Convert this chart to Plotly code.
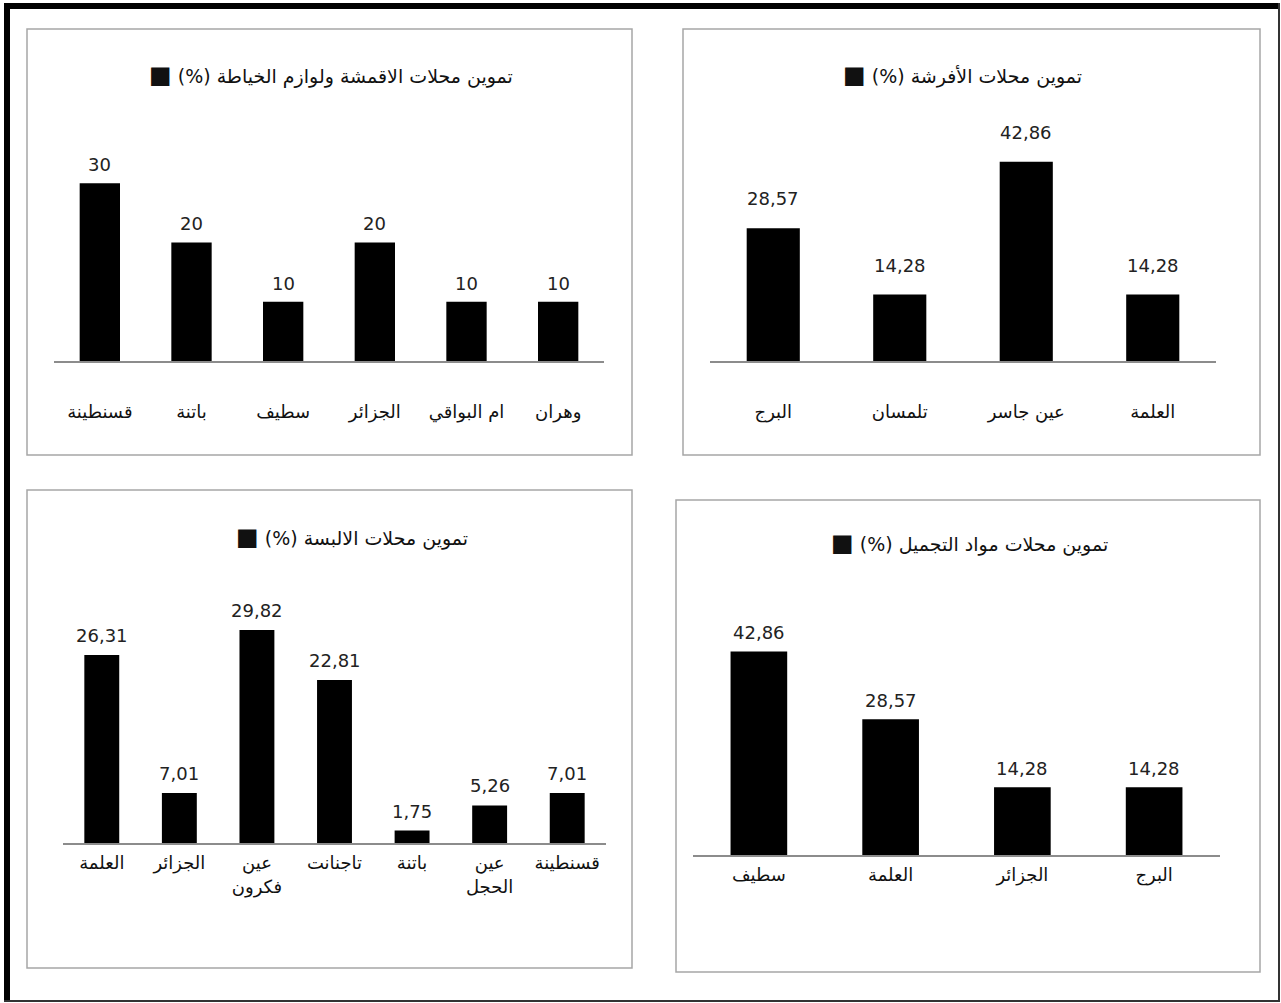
import plotly.graph_objects as go

W, H = 1281, 1003

# ---------------- data ----------------
tl_title = "تموين محلات الاقمشة ولوازم الخياطة"
tl_cats = ["قسنطينة", "باتنة", "سطيف", "الجزائر", "ام البواقي", "وهران"]
tl_vals = [30, 20, 10, 20, 10, 10]

tr_title = "تموين محلات الأفرشة"
tr_cats = ["البرج", "تلمسان", "عين جاسر", "العلمة"]
tr_vals = [28.57, 14.28, 42.86, 14.28]

bl_title = "تموين محلات الالبسة "
bl_cats = ["العلمة", "الجزائر", "عين<br>فكرون", "تاجنانت", "باتنة", "عين<br>الحجل", "قسنطينة"]
bl_vals = [26.31, 7.01, 29.82, 22.81, 1.75, 5.26, 7.01]

br_title = "تموين محلات مواد التجميل "
br_cats = ["سطيف", "العلمة", "الجزائر", "البرج"]
br_vals = [42.86, 28.57, 14.28, 14.28]

FONT = "DejaVu Sans"


def fx(p):
    return p / W


def fy(p):
    return 1 - p / H


def fmt(v):
    if float(v).is_integer():
        return str(int(v))
    return f"{v:.2f}".replace(".", ",")


# layout settings per panel (pixel geometry)
panels = [
    dict(cats=tl_cats, vals=tl_vals, title=tl_title, x0=54, x1=604, base=361, ymax=40, top=124,
         bw=0.44, shift=6, standoff=34, box=(27, 29, 632, 455), tx=331, ty=75),
    dict(cats=tr_cats, vals=tr_vals, title=tr_title, x0=710, x1=1216, base=361, ymax=50, top=128.5,
         bw=0.42, shift=17, standoff=34, box=(683, 29, 1260, 455), tx=963, ty=75),
    dict(cats=bl_cats, vals=bl_vals, title=bl_title, x0=63, x1=606, base=843, ymax=35, top=593,
         bw=0.45, shift=7, standoff=3, box=(27, 490, 632, 968), tx=355, ty=537),
    dict(cats=br_cats, vals=br_vals, title=br_title, x0=693, x1=1220, base=855, ymax=50, top=617.5,
         bw=0.43, shift=6, standoff=3, box=(676, 500, 1260, 972), tx=973, ty=543),
]

fig = go.Figure()
annotations = []
shapes = []
layout_axes = {}

for i, p in enumerate(panels, start=1):
    xa = "x" if i == 1 else f"x{i}"
    ya = "y" if i == 1 else f"y{i}"
    xkey = "xaxis" if i == 1 else f"xaxis{i}"
    ykey = "yaxis" if i == 1 else f"yaxis{i}"
    fig.add_trace(go.Bar(
        x=p["cats"], y=p["vals"], xaxis=xa, yaxis=ya,
        marker=dict(color="black", line=dict(width=0)),
        width=p["bw"], showlegend=False, hoverinfo="x+y",
    ))
    layout_axes[xkey] = dict(
        domain=[fx(p["x0"]), fx(p["x1"])], anchor=ya, type="category",
        showline=True, linecolor="#8c8c8c", linewidth=1.5, ticks="",
        showgrid=False, zeroline=False, ticklabelstandoff=p["standoff"],
        tickfont=dict(family=FONT, size=18, color="#111"), fixedrange=True,
    )
    layout_axes[ykey] = dict(
        domain=[fy(p["base"]), fy(p["top"])], anchor=xa, range=[0, p["ymax"]],
        visible=False, fixedrange=True,
    )
    for c, v in zip(p["cats"], p["vals"]):
        annotations.append(dict(
            x=c, y=v, xref=xa, yref=ya, text=fmt(v), showarrow=False,
            yanchor="bottom", yshift=p["shift"],
            font=dict(family=FONT, size=18, color="#222"),
        ))
    # title with legend square
    annotations.append(dict(
        x=fx(p["tx"]), y=fy(p["ty"]), xref="paper", yref="paper",
        xanchor="center", yanchor="middle", showarrow=False,
        text="<span style='font-size:24px'>■</span> (%) " + p["title"],
        font=dict(family=FONT, size=19, color="#111"),
    ))
    bx0, by0, bx1, by1 = p["box"]
    shapes.append(dict(type="rect", xref="paper", yref="paper",
                       x0=fx(bx0), y0=fy(by0), x1=fx(bx1), y1=fy(by1),
                       line=dict(color="#a6a6a6", width=1.5), layer="below"))

# outer frame
shapes += [
    dict(type="line", xref="paper", yref="paper", x0=fx(7), x1=fx(7), y0=fy(3), y1=fy(1002),
         line=dict(color="black", width=6)),
    dict(type="line", xref="paper", yref="paper", x0=fx(4), x1=fx(1280), y0=fy(6), y1=fy(6),
         line=dict(color="black", width=6)),
    dict(type="line", xref="paper", yref="paper", x0=fx(1279), x1=fx(1279), y0=fy(3), y1=fy(1002),
         line=dict(color="#333", width=2)),
    dict(type="line", xref="paper", yref="paper", x0=fx(4), x1=fx(1280), y0=fy(1001), y1=fy(1001),
         line=dict(color="#333", width=2)),
]

fig.update_layout(
    width=W, height=H, margin=dict(l=0, r=0, t=0, b=0),
    paper_bgcolor="white", plot_bgcolor="rgba(0,0,0,0)",
    font=dict(family=FONT, color="#111"),
    annotations=annotations, shapes=shapes, bargap=0.5,
    **layout_axes,
)

fig.write_html(
    "out.html",
    config={"displayModeBar": False},
    post_script="document.body.style.margin='0';document.body.style.overflow='hidden';",
)
